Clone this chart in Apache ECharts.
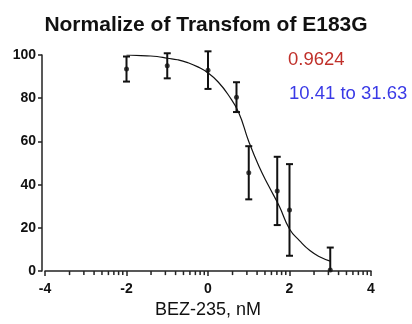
<!DOCTYPE html>
<html>
<head>
<meta charset="utf-8">
<script src="https://cdn.jsdelivr.net/npm/echarts@6/dist/echarts.min.js"></script>
<style>
  html, body { margin: 0; padding: 0; background: #fff; }
  #chart { width: 412px; height: 324px; }
</style>
</head>
<body>
<div id="chart"></div>
<script>
// 数据：log浓度、均值、标准差
const doseX = [-2, -1, 0, 0.699, 1, 1.699, 2, 3];
const meanY = [93.5, 95, 93, 80.5, 45.5, 37.1, 28.3, 0.5];
const sdY = [5.8, 5.8, 8.7, 6.9, 12.3, 15.8, 21.2, 10.4];

// 拟合曲线
const fitX = [-2, -1.75, -1.5, -1.25, -1, -0.75, -0.5, -0.25, 0, 0.25, 0.5, 0.75, 1, 1.25, 1.5, 1.75, 2, 2.25, 2.5, 2.75, 3];
const fitY = [100, 99.8, 99.6, 99.3, 98.5, 97.8, 96.5, 94.5, 91.7, 87.5, 81.5, 73.5, 60, 48.5, 39, 30, 19.5, 14, 9.5, 6.5, 4.6];

const xTicks = [-4, -2, 0, 2, 4];
const yTicks = [0, 20, 40, 60, 80, 100];
const rSquared = "0.9624";
const ciText = "10.41 to 31.63";

// x轴的对数次刻度
let minorTicks = [];
for (let a = -4; a < 4; a += 2) {
    [2, 3, 4, 5, 6, 7, 8, 9].forEach(function (k) {
        minorTicks.push(a + 2 * Math.log10(k));
    });
}

const font = "'Liberation Sans', Arial, sans-serif";
const myChart = echarts.init(document.getElementById("chart"));

const option = {
    backgroundColor: "#fff",
    animation: false,
    title: {
        text: "Normalize of Transfom of E183G",
        left: "center",
        top: 10,
        textStyle: { fontFamily: font, fontSize: 21, fontWeight: "bold", color: "#111" }
    },
    grid: { left: 45, right: 41, top: 55, bottom: 52 },
    xAxis: {
        type: "value",
        min: xTicks[0],
        max: xTicks[xTicks.length - 1],
        interval: 2,
        name: "BEZ-235, nM",
        nameLocation: "middle",
        nameGap: 29,
        nameTextStyle: { fontFamily: font, fontSize: 18, color: "#111" },
        axisLine: { onZero: false, lineStyle: { color: "#222", width: 1.5 } },
        axisTick: { length: 5, lineStyle: { color: "#222", width: 1.5 } },
        axisLabel: { margin: 11, fontFamily: font, fontSize: 14, fontWeight: "bold", color: "#111" },
        splitLine: { show: false }
    },
    yAxis: {
        type: "value",
        min: yTicks[0],
        max: yTicks[yTicks.length - 1],
        interval: 20,
        offset: 3,
        axisLine: { show: true, onZero: false, lineStyle: { color: "#222", width: 1.5 } },
        axisTick: { show: true, length: 4, lineStyle: { color: "#222", width: 1.5 } },
        axisLabel: { margin: 6, fontFamily: font, fontSize: 14, fontWeight: "bold", color: "#111" },
        splitLine: { show: false }
    },
    graphic: [
        {
            type: "text", left: 288, top: 50,
            style: { text: rSquared, fill: "#c0302a", font: "18.5px " + font }
        },
        {
            type: "text", left: 289, top: 84,
            style: { text: ciText, fill: "#3a3ae6", font: "18.5px " + font }
        }
    ],
    series: [
        {
            // 拟合曲线
            type: "line",
            data: fitX.map(function (x, i) { return [x, fitY[i]]; }),
            smooth: true,
            showSymbol: false,
            lineStyle: { color: "#111", width: 1.2 },
            z: 2
        },
        {
            // 误差棒
            type: "custom",
            clip: false,
            data: doseX.map(function (x, i) { return [x, meanY[i] - sdY[i], meanY[i] + sdY[i]]; }),
            renderItem: function (params, api) {
                const x = api.value(0);
                const lo = Math.max(api.value(1), 0);
                const hi = api.value(2);
                const pLo = api.coord([x, lo]);
                const pHi = api.coord([x, hi]);
                const w = 3.5;
                const st = { stroke: "#111", lineWidth: 2 };
                const children = [
                    { type: "line", shape: { x1: pHi[0], y1: pHi[1], x2: pLo[0], y2: pLo[1] }, style: st },
                    { type: "line", shape: { x1: pHi[0] - w, y1: pHi[1], x2: pHi[0] + w, y2: pHi[1] }, style: st }
                ];
                if (api.value(1) > 0) {
                    children.push({ type: "line", shape: { x1: pLo[0] - w, y1: pLo[1], x2: pLo[0] + w, y2: pLo[1] }, style: st });
                }
                return { type: "group", children: children };
            },
            z: 3
        },
        {
            // x轴次刻度
            type: "custom",
            clip: false,
            silent: true,
            data: minorTicks.map(function (v) { return [v, 0, 1]; }),
            renderItem: function (params, api) {
                const p = api.coord([api.value(0), 0]);
                return {
                    type: "group",
                    children: [{
                        type: "line",
                        shape: { x1: p[0], y1: p[1], x2: p[0], y2: p[1] + 4 },
                        style: { stroke: "#222", lineWidth: 1.5 }
                    }]
                };
            },
            z: 6
        },
        {
            // 均值点
            type: "scatter",
            data: doseX.map(function (x, i) { return [x, meanY[i]]; }),
            symbolSize: 5,
            itemStyle: { color: "#111" },
            z: 4
        }
    ]
};

myChart.setOption(option);
</script>
</body>
</html>
